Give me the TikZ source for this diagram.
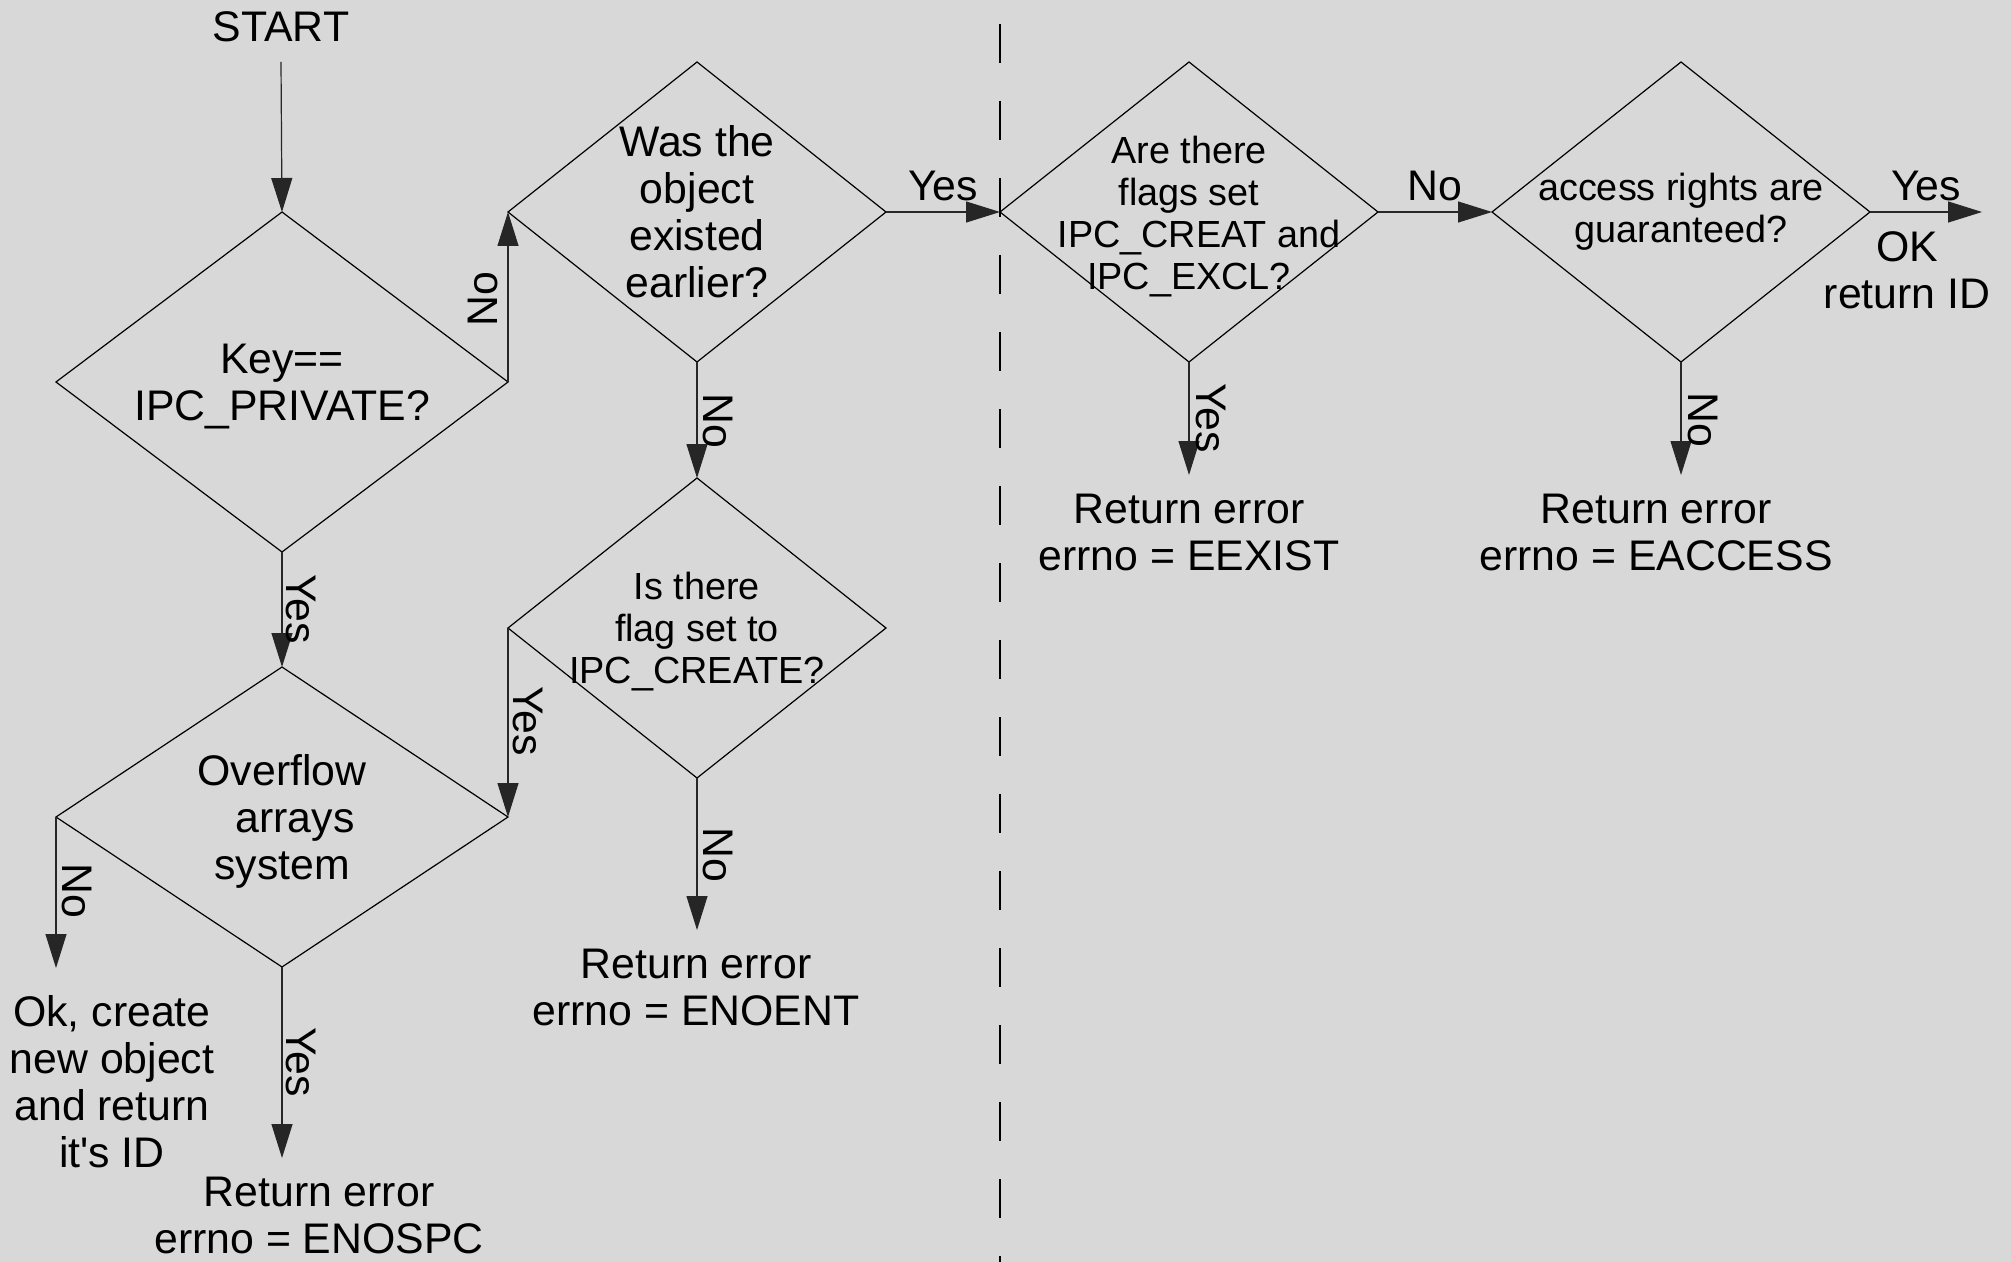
\documentclass[tikz,border=0pt]{standalone}
\usepackage{fontspec}
\setmainfont{Liberation Sans}[Ligatures=TeXOff]
\usetikzlibrary{shapes.geometric,arrows.meta}
\definecolor{bg}{RGB}{216,216,216}
\begin{document}
\begin{tikzpicture}[x=0.5pt,y=-0.5pt,
  dia/.style={draw=black, line width=0.6pt, shape=diamond, inner sep=0pt, outer sep=0pt},
  big/.style={font=\fontsize{21.4}{23.5}\selectfont, align=center, inner sep=0pt},
  small/.style={font=\fontsize{18.9}{21}\selectfont, align=center, inner sep=0pt},
  lab/.style={font=\fontsize{21.4}{23.5}\selectfont, inner sep=0pt},
  conn/.style={draw=black!85, line width=0.6pt, -{Triangle[length=17pt,width=10.5pt]}}]
\fill[bg] (0,0) rectangle (2011,1262);
\useasboundingbox (0,0) rectangle (2011,1262);
% separator
\draw[black, line width=0.8pt, dash pattern=on 19.5pt off 19pt] (1000,24) -- (1000,1262);
% start
\node[big] (start) at (281,27) {START};
% diamonds
\node[dia, minimum width=226pt, minimum height=170pt] (d1) at (282,382) {};
\node[big] (t1) at ([yshift=-2.5pt]d1.center) {Key==\\IPC\_PRIVATE?};
\node[dia, minimum width=189pt, minimum height=150pt] (d2) at (697,212) {};
\node[big] (t2) at (d2) {Was the\\object\\existed\\earlier?};
\node[dia, minimum width=189pt, minimum height=150pt] (d3) at (1189,212) {};
\node[small] (t3) at ([yshift=-2.5pt]d3.center) {Are there\\flags set\\\hspace*{10pt}IPC\_CREAT and\\IPC\_EXCL?};
\node[dia, minimum width=189pt, minimum height=150pt] (d4) at (697,628) {};
\node[small] (t4) at ([yshift=-2pt]d4.center) {Is there\\flag set to\\IPC\_CREATE?};
\node[dia, minimum width=226pt, minimum height=150pt] (d5) at (282,817) {};
\node[big] (t5) at ([yshift=-2pt]d5.center) {Overflow\\\hspace*{13pt}arrays\\system};
\node[dia, minimum width=189pt, minimum height=150pt] (d6) at (1681,212) {};
\node[small] (t6) at (d6) {access rights are\\guaranteed?};
% outcomes
\node[big] (okc) at (112,1082) {Ok, create\\new object\\and return\\it's ID};
\node[big] (enospc) at (319,1215) {Return error\\errno = ENOSPC};
\node[big] (enoent) at (696,987) {Return error\\errno = ENOENT};
\node[big] (eexist) at (1189,532) {Return error\\errno = EEXIST};
\node[big] (eaccess) at (1656,532) {Return error\\errno = EACCESS};
\node[big] (okid) at (1907,270) {OK\\return ID};
% free ends
\coordinate (e5w) at (56,968);
\coordinate (e5s) at (282,1158);
\coordinate (e4) at (697,930);
\coordinate (e6e) at (1982,212);
\coordinate (e3) at (1189,475);
\coordinate (e6) at (1681,475);
% connectors
\draw[conn] ([yshift=-17.5pt]start.center) -- (d1.north);
\draw[conn] (d1.east) -- (d2.west);
\draw[conn] (d2.east) -- (d3.west);
\draw[conn] (d2.south) -- (d4.north);
\draw[conn] (d1.south) -- (d5.north);
\draw[conn] (d4.west) -- (d5.east);
\draw[conn] (d5.west) -- (e5w);
\draw[conn] (d5.south) -- (e5s);
\draw[conn] (d4.south) -- (e4);
\draw[conn] (d3.east) -- (d6.west);
\draw[conn] (d6.east) -- (e6e);
\draw[conn] (d3.south) -- (e3);
\draw[conn] (d6.south) -- (e6);
% labels
\node[lab, rotate=90] (l1) at (483,299) {No};
\node[lab] (l2) at (943,186) {Yes};
\node[lab, rotate=-90] (l3) at (718,421) {No};
\node[lab, rotate=-90] (l4) at (301,609) {Yes};
\node[lab, rotate=-90] (l5) at (528,721) {Yes};
\node[lab, rotate=-90] (l6) at (77,891) {No};
\node[lab, rotate=-90] (l7) at (301,1062) {Yes};
\node[lab, rotate=-90] (l8) at (718,855) {No};
\node[lab] (l9) at (1435,186) {No};
\node[lab] (l10) at (1926,186) {Yes};
\node[lab, rotate=-90] (l11) at (1211,418) {Yes};
\node[lab, rotate=-90] (l12) at (1703,420) {No};
\end{tikzpicture}
\end{document}
